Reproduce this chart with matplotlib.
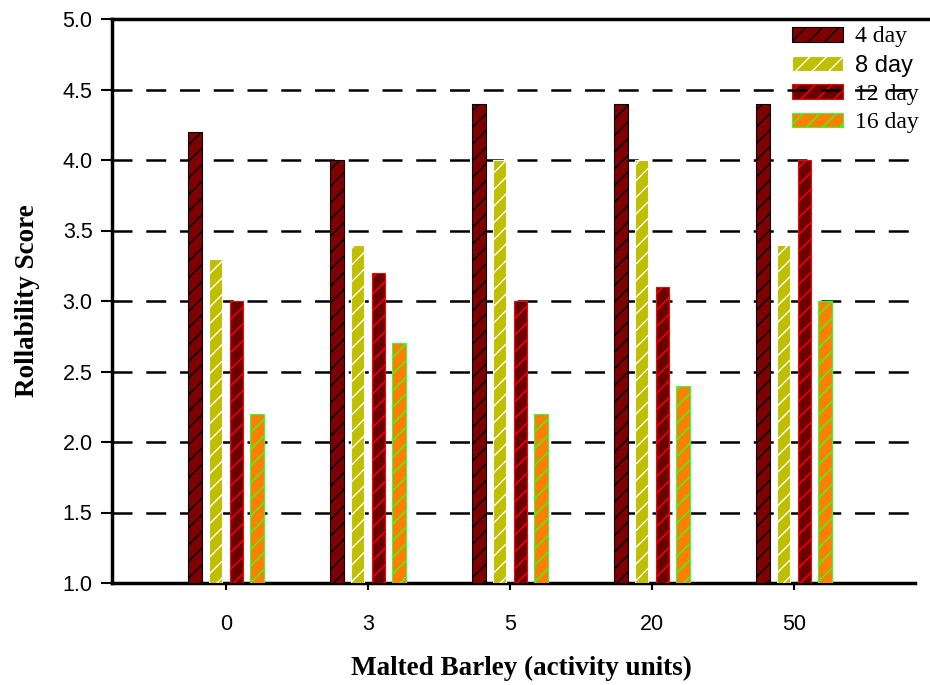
import numpy as np
import matplotlib.pyplot as plt

# Rollability score by malted barley dose and storage day
doses = ["0", "3", "5", "20", "50"]
days = ["4 day", "8 day", "12 day", "16 day"]
day4 = [4.2, 4.0, 4.4, 4.4, 4.4]
day8 = [3.3, 3.4, 4.0, 4.0, 3.4]
day12 = [3.0, 3.2, 3.0, 3.1, 4.0]
day16 = [2.2, 2.7, 2.2, 2.4, 3.0]

BASE = 1.0
PITCH = 0.145
BAR_W = 0.095
X_MIN, X_END, X_MAX = -0.803, 4.852, 4.958

# fill, hatch/edge colour, legend font
styles = [
    ("#7f0000", "black", "Liberation Serif"),
    ("#bfbf00", "white", "Liberation Sans"),
    ("#6a0000", "#ff0000", "Liberation Serif"),
    ("#ff8000", "#33ff33", "Liberation Serif"),
]

fig = plt.figure(figsize=(9.3, 6.85), dpi=100)
ax = fig.add_axes([112 / 930, 1 - 583 / 685, 1 - 112 / 930, (583 - 19) / 685])

x = np.arange(len(doses))
series = [day4, day8, day12, day16]
handles = []
for i, (vals, (fill, edge, _)) in enumerate(zip(series, styles)):
    heights = np.array(vals) - BASE
    bars = ax.bar(x + (i - 1.5) * PITCH, heights, BAR_W, bottom=BASE,
                  color=fill, edgecolor=edge, hatch="//", linewidth=0.8,
                  zorder=3, label=days[i])
    handles.append(bars)

# dashed reference lines
ax.hlines([1.5, 2.0, 2.5, 3.0, 3.5, 4.0, 4.5], X_MIN, X_END, color="black",
          lw=1.8, linestyles=(0, (8, 5.5)), zorder=2)

ax.set_xlim(X_MIN, X_MAX)
ax.set_ylim(1.0, 5.0)
yt = np.arange(1.0, 5.01, 0.5)
ax.set_yticks(yt)
ax.set_yticklabels([f"{v:.1f}" for v in yt], fontfamily="Liberation Sans", fontsize=15.5)
ax.set_xticks(x)
ax.set_xticklabels(doses, fontfamily="Liberation Sans", fontsize=15.5)
ax.tick_params(axis="y", direction="out", length=8, width=1.5, pad=6)
ax.tick_params(axis="x", direction="out", length=5, width=1.5, pad=17)

for side in ["left", "bottom", "top"]:
    ax.spines[side].set_linewidth(2.5)
ax.spines["right"].set_visible(False)
ax.spines["bottom"].set_bounds(X_MIN, X_END)

ax.set_ylabel("Rollability Score", fontfamily="Liberation Serif",
              fontweight="bold", fontsize=19.5, labelpad=16)
ax.set_xlabel("Malted Barley (activity units)", fontfamily="Liberation Serif",
              fontweight="bold", fontsize=19.5, labelpad=15.5)

leg = ax.legend(handles=handles, loc="upper left",
                bbox_to_anchor=(783 / 930, 1 - 17 / 685),
                bbox_transform=fig.transFigure,
                frameon=False, fontsize=17, handlelength=2.16, handleheight=0.59,
                labelspacing=0.31, handletextpad=0.5, borderaxespad=0)
leg.set_zorder(1)
for text, (_, _, fam) in zip(leg.get_texts(), styles):
    text.set_fontfamily(fam)

fig.savefig("out.png", dpi=100)
